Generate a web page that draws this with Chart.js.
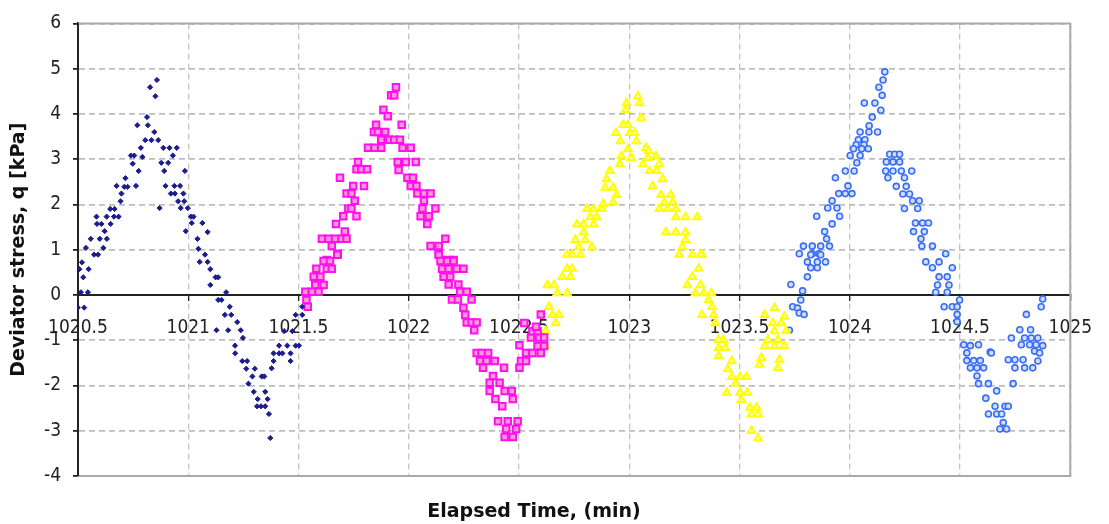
<!DOCTYPE html>
<html>
<head>
<meta charset="utf-8">
<script src="https://cdn.jsdelivr.net/npm/chart.js@4.4.1/dist/chart.umd.min.js"></script>
<style>
  html, body { margin: 0; padding: 0; background: #fff; }
  #wrap { width: 1109px; height: 524px; }
</style>
</head>
<body>
<div id="wrap"><canvas id="stressChart" width="1109" height="524"></canvas></div>
<script>
// Deviator stress vs elapsed time - four loading cycles

const xRange = [1020.5, 1025];   // min, max
const xStep = 0.5;
const yRange = [-4, 6];
const yStep = 1;

// cycle 1 (navy)
const cycle1 = [
  [1020.858,4.75],[1020.827,4.59],[1020.851,4.39],[1020.813,3.93],[1020.769,3.75],[1020.817,3.75],[1020.846,3.60],
  [1020.805,3.42],[1020.833,3.42],[1020.864,3.42],[1020.785,3.25],[1020.887,3.25],[1020.915,3.25],[1020.948,3.25],
  [1020.740,3.08],[1020.755,3.08],[1020.792,3.05],[1020.930,3.08],[1020.748,2.90],[1020.878,2.92],[1020.909,2.92],
  [1020.775,2.74],[1020.891,2.74],[1020.985,2.74],[1020.715,2.58],[1020.675,2.41],[1020.710,2.39],[1020.725,2.39],
  [1020.763,2.41],[1020.897,2.41],[1020.937,2.41],[1020.963,2.41],[1020.697,2.24],[1020.921,2.24],[1020.939,2.24],
  [1020.978,2.24],[1020.693,2.07],[1020.954,2.07],[1020.982,2.07],[1020.870,1.92],[1020.966,1.92],[1020.998,1.92],
  [1020.646,1.90],[1020.666,1.90],[1020.584,1.73],[1020.630,1.73],[1020.663,1.73],[1020.684,1.73],[1021.012,1.73],
  [1021.024,1.73],[1020.586,1.57],[1020.606,1.57],[1020.648,1.57],[1021.016,1.59],[1021.064,1.59],[1020.621,1.41],
  [1020.989,1.41],[1021.088,1.39],[1020.558,1.24],[1020.599,1.24],[1020.631,1.24],[1021.042,1.24],[1020.536,1.04],
  [1020.615,1.04],[1021.046,1.02],[1020.573,0.89],[1020.591,0.89],[1020.518,0.72],[1020.506,0.57],[1020.548,0.57],
  [1020.524,0.39],[1020.513,0.06],[1020.545,0.06],[1020.499,-0.28],[1020.528,-0.28],
  [1021.076,0.89],[1021.052,0.73],[1021.088,0.73],[1021.100,0.57],[1021.124,0.39],[1021.136,0.39],[1021.100,0.22],
  [1021.172,0.06],[1021.136,-0.11],[1021.151,-0.11],[1021.188,-0.26],[1021.166,-0.44],[1021.195,-0.44],[1021.222,-0.60],
  [1021.128,-0.78],[1021.181,-0.78],[1021.238,-0.78],[1021.248,-0.95],[1021.212,-1.12],[1021.213,-1.29],[1021.245,-1.46],
  [1021.267,-1.46],[1021.263,-1.63],[1021.302,-1.63],[1021.291,-1.80],[1021.333,-1.80],[1021.345,-1.80],[1021.273,-1.96],
  [1021.297,-2.14],[1021.349,-2.14],[1021.315,-2.30],[1021.360,-2.30],[1021.312,-2.46],[1021.330,-2.46],[1021.349,-2.46],
  [1021.366,-2.63],[1021.372,-3.16],
  [1021.378,-1.62],[1021.387,-1.46],[1021.387,-1.29],[1021.412,-1.29],[1021.412,-1.12],[1021.449,-1.12],[1021.427,-1.29],
  [1021.464,-1.29],[1021.464,-1.46],[1021.487,-1.12],[1021.502,-1.12],[1021.435,-0.80],[1021.472,-0.80],[1021.487,-0.44],
  [1021.517,-0.44],[1021.517,-0.26]
];

// cycle 2 (magenta squares)
const cycle2 = [
  [1021.942,4.59],[1021.920,4.41],[1021.934,4.41],[1021.885,4.09],[1021.905,3.95],[1021.852,3.76],[1021.968,3.76],
  [1021.842,3.60],[1021.860,3.60],[1021.893,3.60],[1021.875,3.43],[1021.912,3.43],[1021.934,3.43],[1021.960,3.43],
  [1021.815,3.25],[1021.845,3.25],[1021.875,3.25],[1021.972,3.25],[1022.009,3.25],[1021.770,2.94],[1021.950,2.94],
  [1021.987,2.94],[1022.032,2.94],[1021.763,2.78],[1021.785,2.78],[1021.811,2.78],[1021.954,2.76],[1021.688,2.59],
  [1021.994,2.59],[1022.019,2.59],[1021.748,2.41],[1021.797,2.41],[1022.009,2.41],[1022.035,2.41],[1021.718,2.24],
  [1021.740,2.24],[1022.039,2.24],[1022.069,2.24],[1022.099,2.24],[1021.755,2.08],[1022.069,2.08],[1021.726,1.91],
  [1021.740,1.91],[1022.062,1.91],[1022.121,1.91],[1021.703,1.74],[1021.763,1.74],[1022.054,1.74],[1022.091,1.74],
  [1021.670,1.57],[1022.084,1.57],[1021.710,1.40],[1021.606,1.24],[1021.636,1.24],[1021.666,1.24],[1021.696,1.24],
  [1021.718,1.24],[1022.166,1.24],[1021.651,1.08],[1022.099,1.08],[1022.136,1.08],[1021.678,0.91],[1022.136,0.91],
  [1021.628,0.77],[1022.151,0.77],[1022.181,0.77],[1022.203,0.77],
  [1021.676,0.89],[1021.614,0.75],[1021.643,0.75],[1021.581,0.58],[1021.628,0.58],[1021.651,0.58],[1021.569,0.40],
  [1021.599,0.40],[1021.576,0.22],[1021.614,0.22],[1021.531,0.07],[1021.561,0.07],[1021.591,0.07],[1021.536,-0.11],
  [1021.542,-0.26],
  [1022.136,0.89],[1022.144,0.75],[1022.174,0.75],[1022.203,0.75],[1022.151,0.58],[1022.181,0.58],[1022.218,0.58],
  [1022.248,0.58],[1022.158,0.40],[1022.188,0.40],[1022.181,0.23],[1022.225,0.23],[1022.233,0.07],[1022.263,0.07],
  [1022.196,-0.10],[1022.223,-0.10],[1022.285,-0.10],[1022.248,-0.28],[1022.256,-0.44],[1022.263,-0.61],[1022.285,-0.61],
  [1022.308,-0.61],[1022.297,-0.78],[1022.308,-1.28],[1022.330,-1.28],[1022.360,-1.28],[1022.323,-1.46],[1022.353,-1.46],
  [1022.390,-1.46],[1022.432,-1.61],[1022.337,-1.61],[1022.382,-1.79],[1022.367,-1.94],[1022.412,-1.94],[1022.367,-2.12],
  [1022.435,-2.12],[1022.467,-2.12],[1022.393,-2.30],[1022.472,-2.30],[1022.424,-2.46],[1022.405,-2.79],[1022.449,-2.79],
  [1022.494,-2.79],[1022.442,-2.96],[1022.487,-2.96],[1022.435,-3.14],[1022.472,-3.14],
  [1022.502,-1.61],[1022.509,-1.46],[1022.532,-1.46],[1022.532,-1.28],[1022.561,-1.28],[1022.599,-1.28],[1022.502,-1.11],
  [1022.584,-1.13],[1022.614,-1.13],[1022.554,-0.94],[1022.591,-0.94],[1022.614,-0.94],[1022.561,-0.80],[1022.584,-0.80],
  [1022.524,-0.62],[1022.577,-0.70],[1022.599,-0.43]
];

// cycle 3 (yellow triangles)
const cycle3 = [
  [1022.987,4.24],[1023.039,4.39],[1023.047,4.24],[1022.984,4.09],[1023.054,3.91],[1022.972,3.76],[1022.994,3.76],
  [1022.939,3.58],[1023.002,3.58],[1023.024,3.58],[1022.960,3.40],[1023.032,3.40],[1022.994,3.22],[1023.076,3.25],
  [1023.088,3.18],[1022.964,3.07],[1023.009,3.03],[1023.084,3.03],[1023.121,3.07],[1022.957,2.89],[1023.062,2.89],
  [1023.136,2.89],[1022.912,2.74],[1023.092,2.74],[1023.124,2.74],[1023.151,2.56],[1022.897,2.56],[1022.890,2.37],
  [1022.927,2.37],[1023.106,2.40],[1022.942,2.21],[1023.144,2.21],[1023.188,2.21],[1022.927,2.05],[1022.882,2.01],
  [1023.159,2.05],[1023.196,2.05],[1022.808,1.90],[1022.838,1.90],[1022.875,1.90],[1023.136,1.90],[1023.174,1.90],
  [1023.211,1.90],[1022.823,1.72],[1022.852,1.72],[1023.211,1.72],[1023.255,1.72],[1023.308,1.72],[1022.763,1.56],
  [1022.793,1.56],[1022.838,1.56],[1022.793,1.39],[1023.166,1.39],[1023.211,1.39],[1023.255,1.39],[1022.756,1.22],
  [1022.800,1.22],[1023.255,1.22],[1022.771,1.06],[1022.830,1.06],[1023.241,1.06],[1022.718,0.89],[1022.778,0.89],
  [1023.226,0.89],[1023.286,0.89],[1023.330,0.89],
  [1022.741,0.89],[1022.718,0.58],[1022.741,0.58],[1022.696,0.40],[1022.733,0.40],[1022.629,0.22],[1022.659,0.22],
  [1022.673,0.04],[1022.718,0.04],[1022.636,-0.26],[1022.651,-0.44],[1022.681,-0.44],[1022.666,-0.62],[1022.621,-0.80],
  [1022.621,-1.12],
  [1023.323,0.89],[1023.315,0.58],[1023.286,0.40],[1023.263,0.22],[1023.323,0.22],[1023.300,0.04],[1023.338,0.04],
  [1023.372,0.04],[1023.360,-0.11],[1023.375,-0.26],[1023.330,-0.44],[1023.383,-0.44],[1023.390,-0.62],[1023.405,-0.99],
  [1023.427,-0.99],[1023.405,-1.17],[1023.435,-1.17],[1023.405,-1.35],[1023.465,-1.46],[1023.447,-1.64],[1023.465,-1.81],
  [1023.502,-1.81],[1023.532,-1.81],[1023.483,-1.96],[1023.442,-2.16],[1023.502,-2.16],[1023.536,-2.16],[1023.509,-2.32],
  [1023.547,-2.49],[1023.577,-2.49],[1023.554,-2.63],[1023.584,-2.63],[1023.554,-3.00],[1023.584,-3.16],
  [1023.599,-1.39],[1023.591,-1.54],[1023.674,-1.61],[1023.681,-1.43],[1023.614,-1.13],[1023.659,-1.13],[1023.703,-1.13],
  [1023.629,-0.99],[1023.674,-0.99],[1023.659,-0.80],[1023.711,-0.80],[1023.614,-0.44],[1023.659,-0.29],[1023.703,-0.48],
  [1023.651,-0.62],[1023.689,-0.62]
];

// cycle 4 (blue circles)
const cycle4 = [
  [1024.159,4.93],[1024.151,4.75],[1024.132,4.59],[1024.147,4.41],[1024.066,4.24],[1024.114,4.24],[1024.141,4.08],
  [1024.102,3.93],[1024.088,3.74],[1024.047,3.60],[1024.087,3.60],[1024.126,3.60],[1024.039,3.43],[1024.069,3.43],
  [1024.029,3.32],[1024.065,3.32],[1024.017,3.23],[1024.054,3.23],[1024.084,3.23],[1024.002,3.08],[1024.047,3.08],
  [1024.032,2.92],[1023.980,2.74],[1024.020,2.74],[1023.935,2.59],[1023.992,2.41],[1023.950,2.24],[1023.980,2.24],
  [1024.010,2.24],[1023.920,2.08],[1023.900,1.92],[1023.942,1.92],[1023.850,1.74],[1023.954,1.74],[1023.920,1.57],
  [1023.886,1.40],[1023.895,1.24],[1023.790,1.08],[1023.830,1.08],[1023.868,1.08],[1023.908,1.08],[1023.771,0.91],
  [1023.830,0.91],[1023.860,0.91],
  [1024.181,3.11],[1024.204,3.11],[1024.226,3.11],[1024.166,2.94],[1024.196,2.94],[1024.226,2.94],[1024.163,2.74],
  [1024.196,2.74],[1024.234,2.74],[1024.281,2.74],[1024.173,2.59],[1024.248,2.59],[1024.211,2.40],[1024.256,2.40],
  [1024.241,2.23],[1024.271,2.23],[1024.285,2.08],[1024.315,2.08],[1024.248,1.91],[1024.308,1.91],[1024.298,1.59],
  [1024.330,1.59],[1024.357,1.59],[1024.289,1.40],[1024.338,1.40],[1024.323,1.24],[1024.327,1.08],[1024.375,1.08],
  [1024.435,0.91],
  [1023.823,0.89],[1023.868,0.89],[1023.808,0.73],[1023.853,0.73],[1023.890,0.73],[1023.823,0.60],[1023.853,0.60],
  [1023.808,0.40],[1023.733,0.23],[1023.786,0.09],[1023.778,-0.11],[1023.741,-0.26],[1023.763,-0.29],[1023.771,-0.40],
  [1023.793,-0.43],[1023.726,-0.78],
  [1024.345,0.73],[1024.375,0.60],[1024.405,0.73],[1024.465,0.60],[1024.405,0.40],[1024.442,0.40],[1024.398,0.22],
  [1024.450,0.22],[1024.390,0.06],[1024.442,0.06],[1024.498,-0.11],[1024.428,-0.26],[1024.465,-0.26],[1024.487,-0.26],
  [1024.487,-0.43],[1024.487,-0.59],[1024.517,-1.10],[1024.547,-1.12],[1024.584,-1.10],[1024.531,-1.28],[1024.531,-1.45],
  [1024.562,-1.45],[1024.592,-1.45],[1024.547,-1.61],[1024.577,-1.61],[1024.607,-1.61],[1024.577,-1.79],[1024.584,-1.96],
  [1024.629,-1.96],[1024.666,-2.12],[1024.637,-1.26],[1024.642,-1.28],[1024.617,-2.28],[1024.659,-2.46],[1024.704,-2.46],
  [1024.719,-2.46],[1024.629,-2.63],[1024.666,-2.63],[1024.689,-2.63],[1024.696,-2.82],[1024.681,-2.96],[1024.711,-2.96],
  [1024.741,-1.96],[1024.719,-1.43],[1024.749,-1.43],[1024.786,-1.43],[1024.749,-1.61],[1024.793,-1.61],[1024.830,-1.61],
  [1024.853,-1.46],[1024.733,-0.95],[1024.771,-0.77],[1024.820,-0.77],[1024.778,-1.10],[1024.816,-1.10],[1024.845,-1.10],
  [1024.875,-1.12],[1024.793,-0.95],[1024.823,-0.95],[1024.853,-0.95],[1024.838,-1.24],[1024.861,-1.28],[1024.801,-0.43],
  [1024.868,-0.26],[1024.875,-0.09]
];

const FONT = '"DejaVu Sans Condensed", "DejaVu Sans", sans-serif';
const TITLE_FONT = '"DejaVu Sans", sans-serif';

function toPoints(arr) {
    return arr.map(p => ({ x: p[0], y: p[1] }));
}

// grey frame on top/right/bottom + x title drawn under the plot
const frameAndTitle = {
    id: 'frameAndTitle',
    beforeDatasetsDraw(chart) {
        const { ctx, chartArea: a } = chart;
        ctx.save();
        ctx.strokeStyle = '#a9a9a9';
        ctx.lineWidth = 2;
        ctx.beginPath();
        ctx.moveTo(a.left, a.top);
        ctx.lineTo(a.right, a.top);
        ctx.lineTo(a.right, a.bottom);
        ctx.lineTo(a.left, a.bottom);
        ctx.stroke();
        ctx.strokeStyle = '#222';
        ctx.beginPath();
        ctx.moveTo(a.left, a.top);
        ctx.lineTo(a.left, a.bottom);
        ctx.stroke();
        ctx.restore();
    },
    afterDraw(chart) {
        const { ctx } = chart;
        ctx.save();
        ctx.font = 'bold 19px ' + TITLE_FONT;
        ctx.fillStyle = '#111';
        ctx.textAlign = 'center';
        ctx.textBaseline = 'middle';
        ctx.fillText('Elapsed Time, (min)', 534, 512);
        ctx.restore();
    }
};

const ctx = document.getElementById('stressChart').getContext('2d');
new Chart(ctx, {
    type: 'scatter',
    data: {
        datasets: [
            {
                label: 'Cycle 1',
                data: toPoints(cycle1),
                pointStyle: 'rectRot',
                pointRadius: 2.6,
                backgroundColor: '#1c1c8c',
                borderColor: '#1c1c8c',
                borderWidth: 1
            },
            {
                label: 'Cycle 2',
                data: toPoints(cycle2),
                pointStyle: 'rect',
                pointRadius: 4.6,
                backgroundColor: '#ff9ad2',
                borderColor: '#ff10f0',
                borderWidth: 2
            },
            {
                label: 'Cycle 3',
                data: toPoints(cycle3),
                pointStyle: 'triangle',
                pointRadius: 4.3,
                backgroundColor: '#ffffb0',
                borderColor: '#ffff00',
                borderWidth: 2
            },
            {
                label: 'Cycle 4',
                data: toPoints(cycle4),
                pointStyle: 'circle',
                pointRadius: 3,
                backgroundColor: '#cfe0ff',
                borderColor: '#3a6cf5',
                borderWidth: 1.6
            }
        ]
    },
    options: {
        responsive: false,
        animation: false,
        layout: { padding: { left: 0, right: 23, top: 20, bottom: 48 } },
        plugins: {
            legend: { display: false },
            tooltip: { enabled: false }
        },
        scales: {
            x: {
                type: 'linear',
                position: { y: 0 },
                min: xRange[0],
                max: xRange[1],
                ticks: {
                    stepSize: xStep,
                    autoSkip: false,
                    maxRotation: 0,
                    padding: 17,
                    color: '#222',
                    font: { family: FONT, size: 19 },
                    callback: (val) => String(Math.round(val * 10) / 10)
                },
                grid: {
                    color: '#c4c4c4',
                    lineWidth: 1.3,
                    tickLength: 5,
                    tickColor: '#222'
                },
                border: { color: '#222', width: 2, dash: [6, 4] }
            },
            y: {
                type: 'linear',
                position: 'left',
                min: yRange[0],
                max: yRange[1],
                afterFit: (scale) => { scale.width = 78; },
                ticks: {
                    stepSize: yStep,
                    padding: 12,
                    color: '#222',
                    font: { family: FONT, size: 19 },
                    callback: (val) => String(val)
                },
                grid: {
                    color: '#bdbdbd',
                    lineWidth: 1.8,
                    tickLength: 5,
                    tickColor: '#222'
                },
                border: { color: '#222', width: 2, dash: [6, 4] },
                title: {
                    display: true,
                    text: 'Deviator stress, q [kPa]',
                    color: '#111',
                    font: { family: TITLE_FONT, size: 19, weight: 'bold' },
                    padding: { top: 8, bottom: 0 }
                }
            }
        }
    },
    plugins: [frameAndTitle]
});
</script>
</body>
</html>
